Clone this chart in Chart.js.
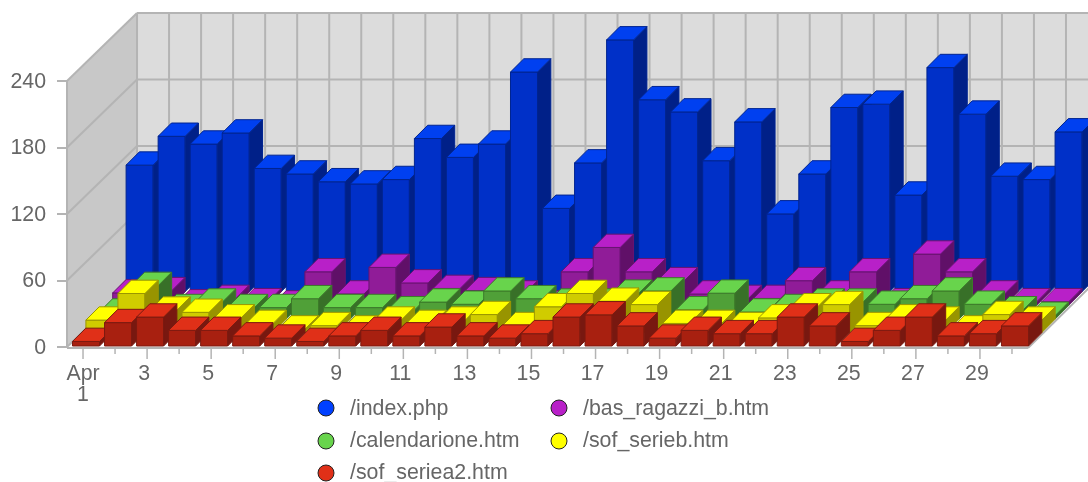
<!DOCTYPE html>
<html><head><meta charset="utf-8">
<style>html,body{margin:0;padding:0;background:#fff}#w{width:1088px;height:482px;position:relative}</style>
<script src="https://cdn.jsdelivr.net/npm/chart.js@4/dist/chart.umd.min.js"></script>
</head><body><div id="w"><canvas id="c" width="1088" height="482"></canvas></div>
<script>
const categories = ['Apr 1','2','3','4','5','6','7','8','9','10','11','12','13','14','15','16','17','18','19','20','21','22','23','24','25','26','27','28','29','30'];
const yTicks = [0,60,120,180,240];
const indexPhp = [115,141,134,144,112,107,100,98,102,139,122,134,199,76,117,228,174,163,119,154,71,107,167,170,88,203,161,105,102,145];
const basRagazzi = [12,14,3,7,4,2,31,11,35,21,16,14,11,2,31,53,31,23,11,7,7,23,11,31,4,47,31,11,4,4];
const calendarione = [7,31,11,16,11,11,19,11,11,9,16,14,26,19,16,16,24,26,9,24,7,11,16,16,14,19,26,14,9,4];
const sofSerieb = [12,36,21,19,14,9,4,7,4,12,9,12,17,7,24,36,29,26,9,9,7,14,24,26,7,14,12,4,17,12];
const sofSeriea2 = [5,22,27,15,15,10,8,5,10,15,10,18,10,8,12,27,29,19,8,15,12,12,27,19,5,15,27,10,12,19];

const seriesNames = ['/index.php','/bas_ragazzi_b.htm','/calendarione.htm','/sof_serieb.htm','/sof_seriea2.htm'];
const seriesValues = [indexPhp,basRagazzi,calendarione,sofSerieb,sofSeriea2];
const topColors   = ['#0040f0','#b820c8','#68d44c','#ffff00','#e03018'];
const frontColors = ['#0030c8','#901c98','#50a038','#d0cc00','#a82010'];
const sideColors  = ['#002088','#601068','#387028','#989400','#781810'];
const edgeColors  = ['#002490','#681470','#3c7a2a','#9a9600','#7c1a10'];
const legendColors= ['#0040ff','#b820c8','#68d44c','#ffff00','#e03018'];
const gridColor = '#b4b4b4', textColor = '#666666';
const FAMILY = '"Liberation Sans", Arial, sans-serif', FSIZE = 21.33;
const WALL_DX = 70, WALL_DY = 68, DX = 13.4, DY = 13.6, BAR_DEPTH = 13.3;

function poly(ctx, pts, fill, stroke){
  ctx.beginPath(); pts.forEach((p,i)=> i?ctx.lineTo(p[0],p[1]):ctx.moveTo(p[0],p[1])); ctx.closePath();
  if(fill){ctx.fillStyle=fill;ctx.fill();}
  if(stroke){ctx.strokeStyle=stroke;ctx.lineWidth=1;ctx.stroke();}
}
const line=(ctx,x1,y1,x2,y2)=>{ctx.beginPath();ctx.moveTo(x1,y1);ctx.lineTo(x2,y2);ctx.stroke();};

const scene3d = {
  id:'scene3d',
  beforeDraw(chart){
    const {chartArea:a,scales:{x,y}} = chart;
    const xi=x.getLabelItems(a), yi=y.getLabelItems(a);
    if(xi[0]) xi[0].options.translation[0]+=3;
    yi.forEach(it=>{it.options.translation[1]+=1;});
  },
  beforeDatasetsDraw(chart){
    const {ctx,chartArea:a,scales:{x,y}} = chart;
    const bx = WALL_DX, by = WALL_DY, W = 1200;
    ctx.save();
    poly(ctx,[[a.left+bx,a.top-by],[W,a.top-by],[W,a.bottom-by],[a.left+bx,a.bottom-by]],'#dcdcdc');
    poly(ctx,[[a.left,a.top],[a.left+bx,a.top-by],[a.left+bx,a.bottom-by],[a.left,a.bottom]],'#c8c8c8');
    ctx.strokeStyle=gridColor; ctx.lineWidth=2;
    yTicks.forEach(v=>{
      const p=y.getPixelForValue(v);
      if(v>0) line(ctx,a.left,p,a.left+bx,p-by);
      if(v>0) line(ctx,a.left+bx,p-by,W,p-by);
    });
    for(let i=0;i<=categories.length;i++){
      const px = x.getPixelForValue(i)-16+bx;
      line(ctx,px,a.top-by,px,a.bottom-by);
    }
    line(ctx,a.left,a.top,a.left,a.bottom+1);
    // floor
    poly(ctx,[[a.left,a.bottom],[a.left+bx,a.bottom-by],[a.right+bx,a.bottom-by],[a.right,a.bottom]],'#ffffff');
    line(ctx,a.left,a.bottom,a.left+bx,a.bottom-by);
    line(ctx,a.right,a.bottom+1,a.right+bx,a.bottom-by);
    line(ctx,a.left,a.bottom+1,a.right,a.bottom+1);
    // x ticks: long at labelled categories, short otherwise
    ctx.lineWidth=1.5;
    categories.forEach((c,i)=>{
      const px=x.getPixelForValue(i);
      line(ctx,px,a.bottom+2,px,a.bottom+(i%2?7:12));
    });
    ctx.restore();
  },
  beforeDatasetDraw(chart,args){
    const {ctx} = chart; const meta=args.meta; const i=args.index;
    const d=(chart.data.datasets[i].order-1);
    const ox=d*DX, oy=d*DY;
    ctx.save();
    meta.data.forEach(el=>{
      const w=el.width, l=el.x-w/2+3+ox, r=l+w, t=el.y-oy, b=el.base-oy;
      poly(ctx,[[l,b],[r,b],[r,t],[l,t]],frontColors[i],edgeColors[i]);
      poly(ctx,[[r,b],[r+BAR_DEPTH,b-BAR_DEPTH],[r+BAR_DEPTH,t-BAR_DEPTH],[r,t]],sideColors[i],edgeColors[i]);
      poly(ctx,[[l,t],[r,t],[r+BAR_DEPTH,t-BAR_DEPTH],[l+BAR_DEPTH,t-BAR_DEPTH]],topColors[i],edgeColors[i]);
    });
    ctx.restore();
    return false;
  },
  afterDraw(chart){
    const {ctx}=chart;
    const cols=[326,559], rows=[408,441,473], baselines=[415,447,479];
    const slots=[[0,0],[1,0],[0,1],[1,1],[0,2]];
    ctx.save();
    ctx.font=FSIZE+'px '+FAMILY; ctx.textBaseline='alphabetic'; ctx.textAlign='left';
    seriesNames.forEach((n,i)=>{
      const [c,r]=slots[i];
      ctx.beginPath(); ctx.arc(cols[c],rows[r],8,0,Math.PI*2);
      ctx.fillStyle=legendColors[i]; ctx.fill();
      ctx.strokeStyle='#222'; ctx.lineWidth=1; ctx.stroke();
      ctx.fillStyle=textColor; ctx.fillText(n,cols[c]+24,baselines[r]);
    });
    ctx.restore();
  }
};

new Chart(document.getElementById('c'),{
  type:'bar',
  data:{labels:categories,datasets:seriesNames.map((n,i)=>({
    label:n,data:seriesValues[i],order:5-i,grouped:false,
    barPercentage:0.844,categoryPercentage:1,backgroundColor:frontColors[i],borderColor:edgeColors[i]
  }))},
  options:{
    responsive:false,animation:false,
    layout:{padding:{top:81,right:60,left:0,bottom:0}},
    plugins:{legend:{display:false},tooltip:{enabled:false},title:{display:false}},
    scales:{
      x:{
        grid:{display:false},border:{display:false},
        afterFit(s){s.height=135;},
        ticks:{
          color:textColor,font:{family:FAMILY,size:FSIZE,lineHeight:1.0},
          padding:8,autoSkip:false,maxRotation:0,minRotation:0,labelOffset:-3,
          callback(v,i){ if(i===0) return ['Apr','1']; return i%2===0?categories[i]:''; }
        }
      },
      y:{
        min:0,max:240,
        afterFit(s){s.width=67;},
        grid:{drawOnChartArea:false,drawTicks:true,tickLength:10,color:gridColor,lineWidth:2},
        border:{display:false},
        ticks:{stepSize:60,color:textColor,font:{family:FAMILY,size:FSIZE},padding:11}
      }
    }
  },
  plugins:[scene3d]
});
</script></body></html>
